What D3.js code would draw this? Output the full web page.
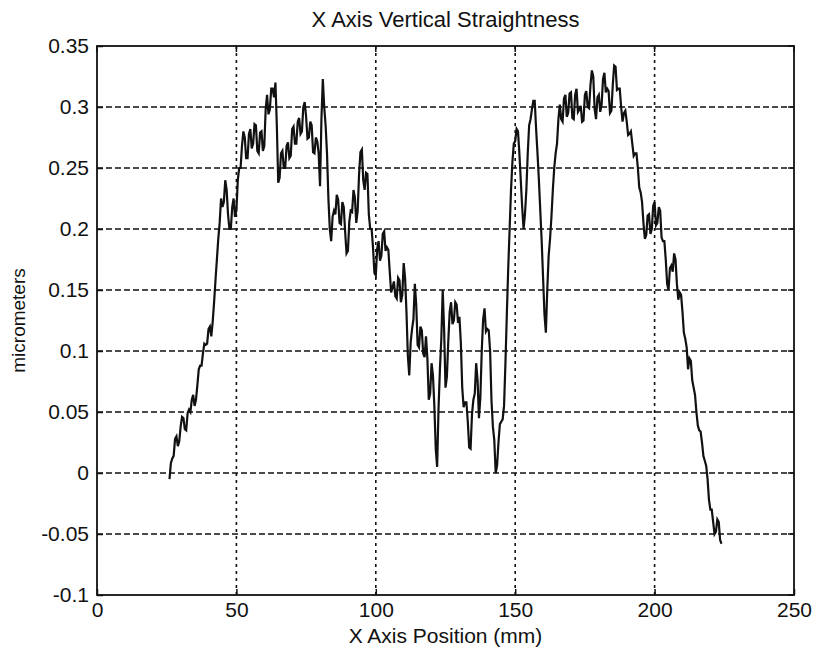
<!DOCTYPE html>
<html>
<head>
<meta charset="utf-8">
<script src="https://cdn.jsdelivr.net/npm/d3@7"></script>
<style>
    body { margin: 0; background: #fff; }
    svg { display: block; }
    text { font-family: "Liberation Sans", Arial, sans-serif; fill: #111; }
</style>
</head>
<body>
<div id="chart"></div>
<script>
// straightness trace, one reading every half mm from 26 mm
var startPosition = 26;
var stepMm = 0.5;
var straightness = [
    -0.005, 0.008, 0.012, 0.014, 0.028, 0.030, 0.022, 0.026, 0.038, 0.046,
    0.045, 0.036, 0.035, 0.049, 0.052, 0.050, 0.060, 0.064, 0.055, 0.060,
    0.072, 0.085, 0.088, 0.088, 0.098, 0.106, 0.105, 0.106, 0.118, 0.120,
    0.112, 0.124, 0.140, 0.158, 0.175, 0.192, 0.205, 0.225, 0.218, 0.222,
    0.240, 0.232, 0.212, 0.200, 0.200, 0.218, 0.225, 0.210, 0.215, 0.240,
    0.250, 0.250, 0.268, 0.280, 0.275, 0.258, 0.258, 0.278, 0.282, 0.266,
    0.270, 0.286, 0.285, 0.264, 0.262, 0.279, 0.280, 0.264, 0.268, 0.298,
    0.310, 0.294, 0.298, 0.315, 0.315, 0.308, 0.320, 0.285, 0.238, 0.242,
    0.262, 0.264, 0.250, 0.250, 0.268, 0.271, 0.258, 0.260, 0.282, 0.284,
    0.270, 0.270, 0.288, 0.291, 0.278, 0.280, 0.300, 0.304, 0.292, 0.274,
    0.275, 0.288, 0.285, 0.263, 0.262, 0.275, 0.272, 0.262, 0.235, 0.290,
    0.323, 0.300, 0.285, 0.262, 0.225, 0.200, 0.190, 0.210, 0.215, 0.212,
    0.228, 0.224, 0.205, 0.204, 0.222, 0.218, 0.198, 0.180, 0.182, 0.206,
    0.215, 0.214, 0.232, 0.226, 0.205, 0.215, 0.245, 0.263, 0.265, 0.240,
    0.232, 0.246, 0.245, 0.212, 0.200, 0.200, 0.185, 0.164, 0.162, 0.184,
    0.190, 0.174, 0.178, 0.196, 0.198, 0.182, 0.185, 0.183, 0.165, 0.148,
    0.152, 0.157, 0.145, 0.143, 0.160, 0.158, 0.140, 0.146, 0.172, 0.160,
    0.132, 0.096, 0.080, 0.107, 0.118, 0.126, 0.155, 0.138, 0.105, 0.103,
    0.120, 0.117, 0.098, 0.095, 0.112, 0.094, 0.060, 0.065, 0.090, 0.080,
    0.055, 0.020, 0.005, 0.053, 0.085, 0.110, 0.150, 0.118, 0.070, 0.079,
    0.108, 0.132, 0.140, 0.122, 0.125, 0.140, 0.138, 0.123, 0.128, 0.107,
    0.070, 0.054, 0.058, 0.058, 0.042, 0.021, 0.020, 0.048, 0.060, 0.065,
    0.090, 0.076, 0.045, 0.062, 0.100, 0.126, 0.135, 0.116, 0.118, 0.117,
    0.100, 0.059, 0.038, 0.027, 0.000, 0.006, 0.025, 0.040, 0.042, 0.044,
    0.055, 0.090, 0.130, 0.168, 0.200, 0.232, 0.255, 0.270, 0.272, 0.282,
    0.280, 0.262, 0.240, 0.218, 0.200, 0.212, 0.232, 0.262, 0.285, 0.290,
    0.298, 0.305, 0.305, 0.282, 0.262, 0.240, 0.215, 0.190, 0.160, 0.130,
    0.115, 0.150, 0.178, 0.192, 0.210, 0.232, 0.250, 0.262, 0.270, 0.290,
    0.302, 0.290, 0.288, 0.307, 0.310, 0.292, 0.295, 0.311, 0.312, 0.291,
    0.290, 0.310, 0.315, 0.296, 0.298, 0.301, 0.288, 0.289, 0.310, 0.313,
    0.300, 0.299, 0.318, 0.330, 0.325, 0.298, 0.290, 0.308, 0.310, 0.296,
    0.302, 0.323, 0.328, 0.312, 0.315, 0.313, 0.295, 0.297, 0.318, 0.334,
    0.333, 0.314, 0.315, 0.315, 0.300, 0.288, 0.295, 0.297, 0.288, 0.277,
    0.278, 0.280, 0.270, 0.260, 0.262, 0.262, 0.250, 0.234, 0.230, 0.222,
    0.205, 0.192, 0.195, 0.211, 0.212, 0.196, 0.200, 0.219, 0.222, 0.203,
    0.205, 0.218, 0.215, 0.193, 0.190, 0.190, 0.175, 0.155, 0.150, 0.168,
    0.170, 0.165, 0.180, 0.175, 0.155, 0.142, 0.148, 0.146, 0.132, 0.115,
    0.110, 0.103, 0.085, 0.094, 0.092, 0.076, 0.070, 0.064, 0.050, 0.039,
    0.035, 0.034, 0.025, 0.014, 0.010, 0.006, -0.005, -0.022, -0.030, -0.030,
    -0.040, -0.050, -0.048, -0.038, -0.040, -0.055, -0.058
];
var xTicks = [0, 50, 100, 150, 200, 250];
var yTicks = [-0.1, -0.05, 0, 0.05, 0.1, 0.15, 0.2, 0.25, 0.3, 0.35];

var titleText = "X Axis Vertical Straightness";
var xLabelText = "X Axis Position (mm)";
var yLabelText = "micrometers";

var fullWidth = 813;
var fullHeight = 656;
var margins = { top: 46, right: 19, bottom: 61, left: 97 };
var width = fullWidth - margins.left - margins.right;
var height = fullHeight - margins.top - margins.bottom;

var points = straightness.map(function(v, i) {
    return [startPosition + i * stepMm, v];
});

var svg = d3.select("#chart").append("svg")
    .attr("width", fullWidth)
    .attr("height", fullHeight);

var g = svg.append("g")
    .attr("transform", "translate(" + margins.left + "," + margins.top + ")");

var xScale = d3.scaleLinear().domain([0, 250]).range([0, width]);
var yScale = d3.scaleLinear().domain([-0.1, 0.35]).range([height, 0]);

// dotted grid
g.append("g").selectAll("line")
    .data(xTicks.slice(1, -1))
    .enter().append("line")
    .attr("x1", function(d) { return xScale(d); })
    .attr("x2", function(d) { return xScale(d); })
    .attr("y1", 0)
    .attr("y2", height)
    .attr("stroke", "#111")
    .attr("stroke-width", 1.6)
    .attr("stroke-dasharray", "3,4");

g.append("g").selectAll("line")
    .data(yTicks.slice(1, -1))
    .enter().append("line")
    .attr("x1", 0)
    .attr("x2", width)
    .attr("y1", function(d) { return yScale(d); })
    .attr("y2", function(d) { return yScale(d); })
    .attr("stroke", "#111")
    .attr("stroke-width", 1.6)
    .attr("stroke-dasharray", "6,3");

// axes with inward ticks
var xAxis = d3.axisBottom(xScale).tickValues(xTicks).tickSizeInner(-6).tickSizeOuter(0)
    .tickPadding(7).tickFormat(d3.format("d"));
var yAxis = d3.axisLeft(yScale).tickValues(yTicks).tickSizeInner(-6).tickSizeOuter(0)
    .tickPadding(8).tickFormat(function(d) { return d === 0 ? "0" : String(+d.toFixed(2)); });

var xAxisContainer = g.append("g")
    .attr("transform", "translate(0," + height + ")")
    .call(xAxis);
var yAxisContainer = g.append("g").call(yAxis);

[xAxisContainer, yAxisContainer].forEach(function(a) {
    a.select(".domain").remove();
    a.selectAll("line").attr("stroke", "#111").attr("stroke-width", 1.5);
    a.selectAll("text").style("font-size", "21px").attr("fill", "#111");
});

g.append("g").selectAll("line")
    .data(xTicks)
    .enter().append("line")
    .attr("x1", function(d) { return xScale(d); })
    .attr("x2", function(d) { return xScale(d); })
    .attr("y1", 0)
    .attr("y2", 6)
    .attr("stroke", "#111")
    .attr("stroke-width", 1.5);

g.append("g").selectAll("line")
    .data(yTicks)
    .enter().append("line")
    .attr("x1", width)
    .attr("x2", width - 6)
    .attr("y1", function(d) { return yScale(d); })
    .attr("y2", function(d) { return yScale(d); })
    .attr("stroke", "#111")
    .attr("stroke-width", 1.5);

// box
g.append("rect")
    .attr("width", width)
    .attr("height", height)
    .attr("fill", "none")
    .attr("stroke", "#111")
    .attr("stroke-width", 1.8);

// the trace
var line = d3.line()
    .x(function(d) { return xScale(d[0]); })
    .y(function(d) { return yScale(d[1]); });

g.append("path")
    .datum(points)
    .attr("d", line)
    .attr("fill", "none")
    .attr("stroke", "#111")
    .attr("stroke-width", 2.2)
    .attr("stroke-linejoin", "miter");

// labels
svg.append("text")
    .attr("x", margins.left + width / 2)
    .attr("y", 27)
    .attr("text-anchor", "middle")
    .style("font-size", "22px")
    .text(titleText);

svg.append("text")
    .attr("x", margins.left + width / 2)
    .attr("y", 643)
    .attr("text-anchor", "middle")
    .style("font-size", "21px")
    .text(xLabelText);

svg.append("text")
    .attr("transform", "translate(25," + (margins.top + height / 2) + ") rotate(-90)")
    .attr("text-anchor", "middle")
    .style("font-size", "19px")
    .text(yLabelText);
</script>
</body>
</html>
